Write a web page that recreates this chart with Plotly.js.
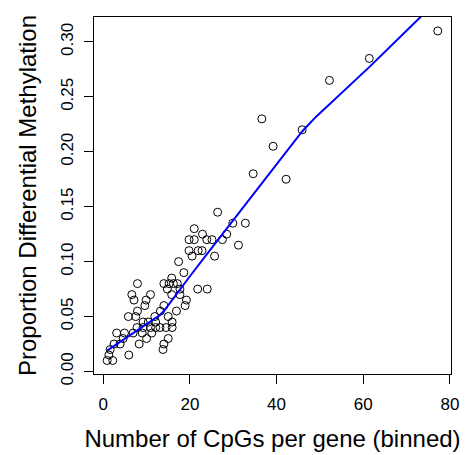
<!DOCTYPE html>
<html>
<head>
<meta charset="utf-8">
<script src="https://cdn.plot.ly/plotly-3.0.1.min.js"></script>
<style>html,body{margin:0;padding:0;background:#fff;}#chart{width:466px;height:455px;}</style>
</head>
<body>
<div id="chart"></div>
<script>
// Binned CpG counts (x) and proportion differentially methylated (y)
const cpgs = [26.4,29.9,32.8,21.0,22.9,28.5,19.8,21.0,23.9,25.1,27.5,31.2,19.8,21.9,22.8,20.5,25.7,17.4,18.6,15.8,
  14.0,15.2,16.2,17.1,7.9,14.8,17.7,21.8,24.0,6.6,10.9,15.8,17.7,7.1,9.9,19.2,18.9,9.6,14.0,16.9,
  7.9,13.2,5.8,7.5,11.9,15.0,9.2,10.4,12.1,15.9,7.8,9.2,10.9,12.1,13.1,14.5,15.9,3.1,4.9,6.9,
  9.0,11.2,4.6,10.0,15.0,2.5,3.9,8.3,14.0,13.8,1.6,5.9,1.3,0.9,2.2,
  77.2,61.4,52.2,36.6,45.9,39.2,34.6,42.2];
const propDM = [0.145,0.135,0.135,0.130,0.125,0.125,0.120,0.120,0.120,0.120,0.120,0.115,0.110,0.110,0.110,0.105,0.105,0.100,0.090,0.085,
  0.080,0.080,0.080,0.080,0.080,0.075,0.075,0.075,0.075,0.070,0.070,0.070,0.070,0.065,0.065,0.065,0.060,0.060,0.060,0.055,
  0.055,0.055,0.050,0.050,0.050,0.050,0.045,0.045,0.045,0.045,0.040,0.040,0.040,0.040,0.040,0.040,0.040,0.035,0.035,0.035,
  0.035,0.035,0.030,0.030,0.030,0.025,0.025,0.025,0.025,0.020,0.020,0.015,0.015,0.010,0.010,
  0.310,0.285,0.265,0.230,0.220,0.205,0.180,0.175];
// Loess smooth
const loessX = [0.9,4.6,8.5,12.0,13.1,14.0,15.0,16.15,18.0,20.0,25.0,30.0,33.5,38.0,41.0,43.5,45.9,49.0,53.1,61.5,68.5,72.5,77.2];
const loessY = [0.019,0.0288,0.0392,0.0485,0.0514,0.0550,0.0603,0.0665,0.0763,0.0867,0.1122,0.1377,0.1556,0.1785,0.1940,0.2068,0.2185,0.2315,0.2465,0.2775,0.3045,0.3200,0.3380];
const xTicks = [0,20,40,60,80];
const yTicks = [0,0.05,0.10,0.15,0.20,0.25,0.30];

const font = 'Liberation Sans, Arial, Helvetica, sans-serif';
const traces = [
  {x: cpgs, y: propDM, type: 'scatter', mode: 'markers',
   marker: {symbol: 'circle-open', size: 8, color: '#000', line: {width: 1, color: '#000'}},
   hoverinfo: 'x+y', showlegend: false},
  {x: loessX, y: loessY, type: 'scatter', mode: 'lines',
   line: {color: '#0000ff', width: 2}, showlegend: false}
];
const axisBase = {
  showgrid: false, zeroline: false, showline: true, mirror: true,
  linecolor: '#000', linewidth: 1, ticks: 'outside', ticklen: 9, tickwidth: 1, tickcolor: '#000',
  tickfont: {family: font, size: 17, color: '#000'}
};
const layout = {
  width: 466, height: 455,
  margin: {l: 94, r: 15, t: 17, b: 81},
  paper_bgcolor: '#fff', plot_bgcolor: '#fff',
  font: {family: font, color: '#000'},
  xaxis: Object.assign({}, axisBase, {
    range: [-2.13, 80.25], tickvals: xTicks, ticktext: xTicks.map(String),
    ticklabelstandoff: 6,
    title: {text: 'Number of CpGs per gene (binned)', font: {family: font, size: 24, color: '#000'}, standoff: 16}
  }),
  yaxis: Object.assign({}, axisBase, {
    range: [-0.0023, 0.3227], tickvals: yTicks, ticktext: yTicks.map(v => v.toFixed(2)),
    tickangle: -90, ticklabelstandoff: 4,
    title: {text: 'Proportion Differential Methylation', font: {family: font, size: 24, color: '#000'}, standoff: 14}
  })
};
Plotly.newPlot('chart', traces, layout, {displayModeBar: false, staticPlot: true});
</script>
</body>
</html>
